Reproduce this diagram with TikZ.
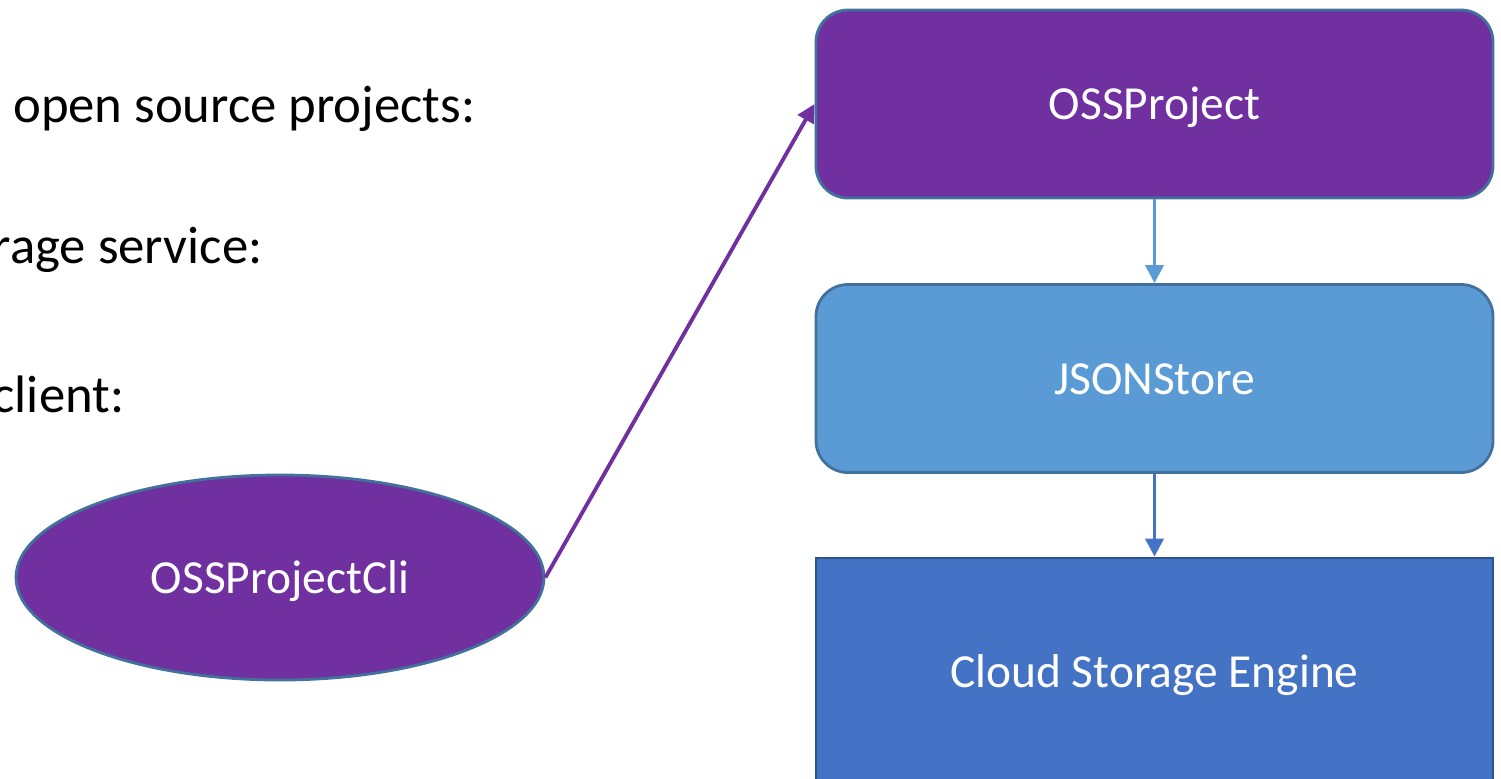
\documentclass[tikz,border=0pt]{standalone}
\usepackage{fontspec}
\setmainfont{Carlito}
\usetikzlibrary{arrows.meta,shapes.geometric}
\definecolor{ossPurple}{HTML}{7030A0}
\definecolor{edgeBlue}{HTML}{41719C}
\definecolor{storeBlue}{HTML}{5B9BD5}
\definecolor{engineBlue}{HTML}{4472C4}
\definecolor{engineEdge}{HTML}{2F528F}

\tikzset{
  labelfont/.style={font=\fontsize{13.5}{16}\selectfont, text=white, text height=0.31cm, text depth=0pt},
  layerbox/.style={draw=edgeBlue, line width=0.8pt, rounded corners=0.32cm,
    minimum width=6.77cm, minimum height=1.88cm, inner sep=0pt, labelfont},
  flow/.style={line width=1.1pt, -{Triangle[length=0.18cm,width=0.18cm]}},
  notetext/.style={anchor=base east, inner sep=0pt, font=\fontsize{15}{18}\selectfont}
}

\begin{document}
\begin{tikzpicture}
\useasboundingbox (0,0) rectangle (15.01,7.78);
\clip (0,0) rectangle (15.01,7.78);

% explanatory text on the left
\node[notetext] (t1) at (4.76,6.56) {open source projects:};
\node[notetext] (t2) at (2.63,5.15) {rage service:};
\node[notetext] (t3) at (1.25,3.66) {client:};

% layered components
\node[layerbox, fill=ossPurple] (oss) at (11.545,6.74) {OSSProject};
\node[layerbox, fill=storeBlue] (store) at (11.545,3.995) {JSONStore};
\node[draw=engineEdge, line width=0.8pt, fill=engineBlue, minimum width=6.77cm,
      minimum height=2.8cm, inner sep=0pt] (engine) at (11.545,0.80) {};
\node[labelfont, inner sep=0pt] (engineText) at (11.545,1.06) {Cloud Storage Engine};

% command line client
\node[ellipse, draw=edgeBlue, line width=0.8pt, fill=ossPurple, minimum width=5.28cm,
      minimum height=2.05cm, inner sep=0pt, labelfont] (cli) at (2.80,2.005) {OSSProjectCli};

% connectors
\draw[flow, draw=ossPurple, fill=ossPurple] (cli.east) -- (oss.west);
\draw[flow, draw=storeBlue, fill=storeBlue] (oss.south) -- (store.north);
\draw[flow, draw=engineBlue, fill=engineBlue] (store.south) -- (engine.north);
\end{tikzpicture}
\end{document}
